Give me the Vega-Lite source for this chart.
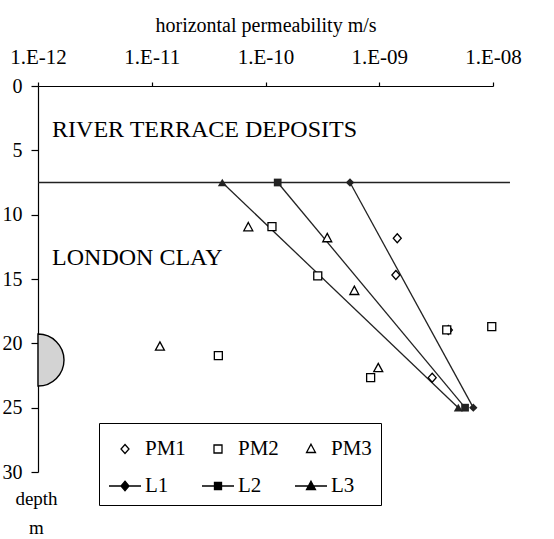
{
  "$schema": "https://vega.github.io/schema/vega-lite/v6.json",
  "width": 455,
  "height": 386,
  "autosize": {"type": "none"},
  "padding": {"left": 38, "top": 86, "right": 61, "bottom": 67},
  "background": "white",
  "config": {
    "view": {"stroke": null},
    "font": "Liberation Serif",
    "axis": {"grid": false, "domainColor": "black", "tickColor": "black", "labelColor": "black", "titleColor": "black", "labelFont": "Liberation Serif", "titleFont": "Liberation Serif", "titleFontWeight": "normal", "domainWidth": 1.2, "tickWidth": 1.2}
  },
  "datasets": {
    "pm": [
      {"series": "PM1", "k": 1.44e-9, "depth": 11.83},
      {"series": "PM1", "k": 1.40e-9, "depth": 14.69},
      {"series": "PM1", "k": 4.05e-9, "depth": 18.96},
      {"series": "PM1", "k": 2.92e-9, "depth": 22.67},
      {"series": "PM2", "k": 1.14e-10, "depth": 10.93},
      {"series": "PM2", "k": 2.88e-10, "depth": 14.76},
      {"series": "PM2", "k": 3.92e-9, "depth": 18.96},
      {"series": "PM2", "k": 9.75e-9, "depth": 18.70},
      {"series": "PM2", "k": 3.85e-11, "depth": 20.96},
      {"series": "PM2", "k": 8.4e-10, "depth": 22.67},
      {"series": "PM3", "k": 7.06e-11, "depth": 10.98},
      {"series": "PM3", "k": 3.49e-10, "depth": 11.83},
      {"series": "PM3", "k": 6.04e-10, "depth": 15.93},
      {"series": "PM3", "k": 9.8e-10, "depth": 21.93},
      {"series": "PM3", "k": 1.18e-11, "depth": 20.26}
    ],
    "lines": [
      {"series": "L1", "k": 5.53e-10, "depth": 7.5},
      {"series": "L1", "k": 6.71e-9, "depth": 25},
      {"series": "L2", "k": 1.28e-10, "depth": 7.5},
      {"series": "L2", "k": 5.68e-9, "depth": 25},
      {"series": "L3", "k": 4.17e-11, "depth": 7.5},
      {"series": "L3", "k": 4.95e-9, "depth": 25}
    ],
    "hline": [{"k": 1e-12, "k2": 1.41e-8, "depth": 7.5}],
    "labels": [
      {"label": "RIVER TERRACE DEPOSITS", "k": 1.33e-12, "depth": 3.94},
      {"label": "LONDON CLAY", "k": 1.33e-12, "depth": 13.9}
    ],
    "lens": [{"k": 1e-12, "depth": 21.3}]
  },
  "encoding": {
    "x": {
      "field": "k", "type": "quantitative",
      "scale": {"type": "log", "domain": [1e-12, 1e-8], "nice": false},
      "axis": {
        "orient": "top",
        "values": [1e-12, 1e-11, 1e-10, 1e-9, 1e-8],
        "labelExpr": "'1.E-' + (round(-log(datum.value)/LN10) >= 10 ? '' : '0') + round(-log(datum.value)/LN10)",
        "tickSize": 4,
        "labelPadding": 15,
        "labelFontSize": 21,
        "labelFlush": false,
        "labelOverlap": false,
        "title": "horizontal permeability m/s",
        "titleFontSize": 20,
        "titlePadding": 11
      }
    },
    "y": {
      "field": "depth", "type": "quantitative",
      "scale": {"domain": [0, 30], "reverse": true, "nice": false, "zero": false},
      "axis": {
        "values": [0, 5, 10, 15, 20, 25, 30],
        "tickSize": 7,
        "labelPadding": 9,
        "labelFontSize": 20,
        "title": ["depth", "m"],
        "titleAngle": 0,
        "titleAlign": "center",
        "titleBaseline": "alphabetic",
        "titleX": -2,
        "titleY": 418,
        "titleFontSize": 19,
        "titleLineHeight": 29
      }
    }
  },
  "layer": [
    {
      "data": {"name": "lens"},
      "mark": {"type": "point", "shape": "M0,-1A1,1,0,0,1,0,1Z", "size": 2704, "filled": true, "fill": "#d3d3d3", "stroke": "black", "strokeWidth": 1.4, "opacity": 1}
    },
    {
      "data": {"name": "hline"},
      "mark": {"type": "rule", "stroke": "#222", "strokeWidth": 1.3},
      "encoding": {"x2": {"field": "k2"}}
    },
    {
      "data": {"name": "lines"},
      "mark": {"type": "line", "stroke": "#222", "strokeWidth": 1.3},
      "encoding": {"detail": {"field": "series", "type": "nominal"}}
    },
    {
      "data": {"name": "lines"},
      "transform": [{"filter": {"field": "series", "equal": "L1"}}],
      "mark": {"type": "point", "shape": "diamond", "filled": true, "color": "#222", "size": 70, "opacity": 1}
    },
    {
      "data": {"name": "lines"},
      "transform": [{"filter": {"field": "series", "equal": "L2"}}],
      "mark": {"type": "point", "shape": "square", "filled": true, "color": "#222", "size": 60, "opacity": 1}
    },
    {
      "data": {"name": "lines"},
      "transform": [{"filter": {"field": "series", "equal": "L3"}}],
      "mark": {"type": "point", "shape": "triangle-up", "filled": true, "color": "#222", "size": 80, "opacity": 1}
    },
    {
      "data": {"name": "labels"},
      "mark": {"type": "text", "align": "left", "baseline": "alphabetic", "font": "Liberation Serif", "fontSize": 24, "color": "black"},
      "encoding": {"text": {"field": "label"}}
    },
    {
      "data": {"name": "pm"},
      "mark": {"type": "point", "size": 1024, "stroke": "black", "strokeWidth": 1.3, "opacity": 1},
      "encoding": {
        "shape": {
          "field": "series", "type": "nominal",
          "scale": {
            "domain": ["PM1", "PM2", "PM3", "L1", "L2", "L3"],
            "range": [
              "M0,-0.28L0.25,0L0,0.28L-0.25,0Z",
              "M-0.25,-0.25L0.25,-0.25L0.25,0.25L-0.25,0.25Z",
              "M0,-0.3L0.28,0.22L-0.28,0.22Z",
              "M-1,0L1,0M0,-0.3L0.25,0L0,0.3L-0.25,0Z",
              "M-1,0L1,0M-0.22,-0.22L0.22,-0.22L0.22,0.22L-0.22,0.22Z",
              "M-1,0L1,0M0,-0.3L0.28,0.22L-0.28,0.22Z"
            ]
          },
          "legend": {
            "title": null, "orient": "none", "legendX": 61, "legendY": 337,
            "direction": "horizontal",
            "columns": 3, "padding": 9, "rowPadding": 10, "columnPadding": 13,
            "strokeColor": "black", "fillColor": "white",
            "labelFont": "Liberation Serif", "labelFontSize": 21, "labelColor": "black", "labelOffset": 3,
            "symbolSize": 1024, "symbolStrokeColor": "black", "symbolStrokeWidth": 1.3, "symbolOpacity": 1,
            "symbolLimit": 0,
            "values": ["PM1", "PM2", "PM3", "L1", "L2", "L3"],
            "encode": {"symbols": {"update": {"stroke": {"value": "black"}, "strokeWidth": {"value": 1.3}, "opacity": {"value": 1}}}}
          }
        },
        "fill": {
          "field": "series", "type": "nominal",
          "scale": {
            "domain": ["PM1", "PM2", "PM3", "L1", "L2", "L3"],
            "range": ["white", "white", "white", "black", "black", "black"]
          },
          "legend": {
            "title": null, "orient": "none", "legendX": 61, "legendY": 337,
            "direction": "horizontal",
            "columns": 3, "padding": 9, "rowPadding": 10, "columnPadding": 13,
            "strokeColor": "black", "fillColor": "white",
            "labelFont": "Liberation Serif", "labelFontSize": 21, "labelColor": "black", "labelOffset": 3,
            "symbolSize": 1024, "symbolStrokeColor": "black", "symbolStrokeWidth": 1.3, "symbolOpacity": 1,
            "symbolLimit": 0,
            "values": ["PM1", "PM2", "PM3", "L1", "L2", "L3"],
            "encode": {"symbols": {"update": {"stroke": {"value": "black"}, "strokeWidth": {"value": 1.3}, "opacity": {"value": 1}}}}
          }
        }
      }
    }
  ]
}
